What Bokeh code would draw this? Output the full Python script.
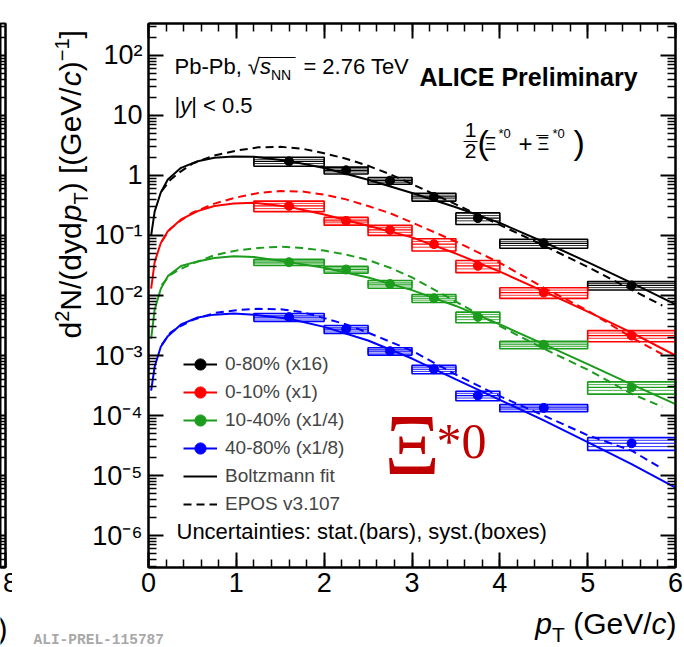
from math import pi
from bokeh.plotting import figure
from bokeh.models import FixedTicker, LinearAxis, LogAxis, Label, Legend, LegendItem
from bokeh.layouts import row, column
from bokeh.embed import file_html
from bokeh.resources import INLINE

# ---------------- measured spectra ----------------
pt_centers = [1.6, 2.25, 2.75, 3.25, 3.75, 4.5, 5.5]
pt_low = [1.2, 2.0, 2.5, 3.0, 3.5, 4.0, 5.0]
pt_high = [2.0, 2.5, 3.0, 3.5, 4.0, 5.0, 6.0]

yield_0_80 = [1.72, 1.22, 0.82, 0.44, 0.195, 0.074, 0.0147]
yield_0_10 = [0.312, 0.175, 0.124, 0.0717, 0.0312, 0.0112, 0.00215]
yield_10_40 = [0.0359, 0.0271, 0.0155, 0.0090, 0.0044, 0.00151, 0.000295]
yield_40_80 = [0.00436, 0.00275, 0.00118, 0.00059, 0.000215, 0.000134, 0.0000345]

# relative systematic (outer box) and uncorrelated systematic (inner box)
syst_0_80 = [0.17, 0.13, 0.13, 0.15, 0.22, 0.17, 0.16]
syst_0_10 = [0.20, 0.15, 0.19, 0.23, 0.23, 0.20, 0.21]
syst_10_40 = [0.12, 0.13, 0.15, 0.15, 0.20, 0.14, 0.23]
syst_40_80 = [0.15, 0.15, 0.14, 0.16, 0.18, 0.14, 0.24]
syst_unc_0_80 = [0.08, 0.06, 0.06, 0.07, 0.10, 0.08, 0.08]
syst_unc_0_10 = [0.10, 0.07, 0.09, 0.11, 0.11, 0.10, 0.10]
syst_unc_10_40 = [0.06, 0.06, 0.07, 0.07, 0.10, 0.07, 0.11]
syst_unc_40_80 = [0.07, 0.07, 0.07, 0.08, 0.09, 0.07, 0.12]
# relative statistical uncertainties
stat_0_80 = [0.03, 0.03, 0.03, 0.04, 0.05, 0.05, 0.08]
stat_0_10 = [0.05, 0.05, 0.05, 0.06, 0.07, 0.08, 0.10]
stat_10_40 = [0.04, 0.04, 0.04, 0.05, 0.06, 0.07, 0.09]
stat_40_80 = [0.05, 0.05, 0.06, 0.07, 0.08, 0.09, 0.12]

# ---------------- Boltzmann fit curves ----------------
fit_pt = [0.03, 0.07, 0.14, 0.22, 0.37, 0.56, 0.75, 0.97, 1.2, 1.6,
          2.0, 2.5, 3.0, 3.5, 4.0, 4.5, 5.0, 5.5, 6.0]
fit_0_80 = [0.10, 0.25, 0.52, 0.86, 1.34, 1.73, 1.97, 2.08, 2.05, 1.75,
            1.33, 0.85, 0.51, 0.295, 0.162, 0.078, 0.036, 0.0162, 0.0071]
fit_0_10 = [0.013, 0.036, 0.075, 0.118, 0.185, 0.255, 0.31, 0.34, 0.35, 0.30,
            0.224, 0.145, 0.093, 0.050, 0.025, 0.0117, 0.0054, 0.0024, 0.0010]
fit_10_40 = [0.0019, 0.0058, 0.013, 0.021, 0.031, 0.037, 0.042, 0.045, 0.044, 0.036,
             0.029, 0.020, 0.0123, 0.0067, 0.0033, 0.00155, 0.00072, 0.00033, 0.000155]
fit_40_80 = [0.00026, 0.00065, 0.0014, 0.0021, 0.0033, 0.0043, 0.0048, 0.0050, 0.0048, 0.0041,
             0.0030, 0.00178, 0.00089, 0.00040, 0.000182, 0.000083, 0.000036, 0.0000155, 0.0000063]

# ---------------- EPOS v3.107 curves ----------------
epos_pt = [0.15, 0.25, 0.35, 0.5, 0.75, 1.0, 1.25, 1.5, 1.75, 2.0,
           2.25, 2.5, 2.75, 3.0, 3.5, 4.0, 4.5, 5.0, 5.5, 5.85]
epos_0_80 = [0.55, 0.85, 1.12, 1.58, 2.15, 2.6, 2.95, 3.0, 2.8, 2.35,
             1.9, 1.45, 1.05, 0.72, 0.33, 0.15, 0.068, 0.030, 0.0125, 0.0068]
epos_0_10 = [0.08, 0.13, 0.17, 0.24, 0.34, 0.43, 0.51, 0.55, 0.54, 0.48,
             0.40, 0.31, 0.235, 0.165, 0.079, 0.035, 0.0135, 0.0056, 0.0020, 0.00105]
epos_10_40 = [0.015, 0.022, 0.027, 0.034, 0.047, 0.056, 0.062, 0.065, 0.062, 0.056,
              0.048, 0.039, 0.029, 0.020, 0.0079, 0.0031, 0.0013, 0.00058, 0.00023, 0.00014]
epos_40_80 = [0.0015, 0.0024, 0.0030, 0.0039, 0.0051, 0.0057, 0.0060, 0.0059, 0.0053, 0.0042,
              0.0033, 0.0024, 0.0017, 0.0012, 0.00048, 0.00021, 0.00010, 0.000047, 0.000026, 0.000013]

series_labels = ["0-80% (x16)", "0-10% (x1)", "10-40% (x1/4)", "40-80% (x1/8)"]
series_colors = ["black", "#ff0000", "#1c9c1c", "#0000ff"]

x_ticks = [0, 1, 2, 3, 4, 5, 6]
y_ticks = [1e-6, 1e-5, 1e-4, 1e-3, 1e-2, 1e-1, 1, 10, 100]
y_tick_labels = ["10⁻⁶", "10⁻⁵", "10⁻⁴", "10⁻³", "10⁻²", "10⁻¹", "1", "10", "10²"]

Y_MIN, Y_MAX = 10 ** -6.533, 10 ** 2.533

# ---------------- page geometry ----------------
PAGE_W, PAGE_H = 684, 647
EDGE_W = 12          # strip showing the neighbouring panel's edge
TITLE_W = 76         # strip holding the vertical axis title
MAIN_W = PAGE_W - EDGE_W - TITLE_W
TOP_H = 606          # height of the row with the plot
FRAME_TOP_PX = 23    # page y of the frame's top edge
FRAME_BOT_PX = 567   # page y of the frame's bottom edge
FRAME_LEFT_PX = 146  # page x of the frame's left edge
ONE_ROW_PX = 175     # page y of the y = 1 level

# ---------------- text helpers ----------------
FONT = "Liberation Sans"
ADV = {' ': 278, '%': 889, '(': 333, ')': 333, '*': 389, '+': 584, ',': 278, '-': 333,
       '.': 278, '/': 278, ':': 278, '<': 584, '=': 584, '|': 260, '[': 278, ']': 278,
       'G': 778, 'N': 722, 'P': 667, 'T': 611, 'V': 667, 'a': 556, 'b': 556, 'c': 500,
       'd': 556, 'e': 556, 'p': 556, 's': 500, 'y': 500, '√': 549, 'Ξ': 667, '−': 584,
       '¯': 552}
ADV_BOLD = {'A': 722, 'L': 611, 'I': 278, 'C': 722, 'E': 667, ' ': 278, 'P': 667, 'r': 389,
            'e': 556, 'l': 278, 'i': 278, 'm': 889, 'n': 611, 'a': 556, 'y': 556}
MID = 0.35  # baseline sits this many em below a middle-anchored label's anchor


def text_width(s, size, bold=False):
    tbl = ADV_BOLD if bold else ADV
    return sum(tbl.get(ch, 556) for ch in s) * size / 1000.0


def put(fig, txt, px, py, size, style="normal", color="black", font=FONT, angle=0.0,
        align="left", mid=MID):
    """Place text with its baseline at page pixel (px, py)."""
    if angle:
        ax, ay = px - mid * size, py
    else:
        ax, ay = px, py - mid * size
    if fig is p:
        kw = dict(x=0, y=1, x_offset=ax - FRAME_LEFT_PX, y_offset=ONE_ROW_PX - ay)
    else:
        kw = dict(x=ax, y=ay)
    fig.add_layout(Label(text=txt, text_font=font, text_font_size=f"{size}px",
                         text_font_style=style, text_color=color, text_align=align,
                         text_baseline="middle", angle=angle, **kw))


def put_runs(fig, runs, px, py, vertical=False, color="black", font=FONT):
    """Lay out styled runs one after another; leading blanks become explicit advances."""
    pos = 0.0
    for txt, size, style, rise in runs:
        bold = style == "bold"
        stripped = txt.lstrip(" ")
        pos += text_width(txt[:len(txt) - len(stripped)], size, bold)
        if stripped:
            if vertical:
                put(fig, stripped, px - rise, py - pos, size, style, color, font, angle=pi / 2)
            else:
                put(fig, stripped, px + pos, py - rise, size, style, color, font)
        pos += text_width(stripped, size, bold)
    return pos


def blank_figure(width, height, x_range, y_range, top=0, bottom=0):
    f = figure(width=width, height=height, x_range=x_range, y_range=y_range,
               output_backend="svg", toolbar_location=None,
               x_axis_location=None, y_axis_location=None,
               min_border_left=0, min_border_right=0,
               min_border_top=top, min_border_bottom=bottom)
    f.xgrid.visible = False
    f.ygrid.visible = False
    f.outline_line_color = None
    return f


# ---------------- main figure ----------------
p = figure(width=MAIN_W, height=TOP_H, x_range=(0, 6), y_range=(Y_MIN, Y_MAX), y_axis_type="log",
           output_backend="svg", toolbar_location=None,
           min_border_left=FRAME_LEFT_PX - EDGE_W - TITLE_W, min_border_right=9,
           min_border_top=FRAME_TOP_PX, min_border_bottom=TOP_H - FRAME_BOT_PX)
p.xgrid.visible = False
p.ygrid.visible = False
p.outline_line_color = "black"
p.outline_line_width = 2

x_minor = [i * 0.2 for i in range(31)]
y_minor = [k * 10.0 ** e for e in range(-7, 3) for k in range(2, 10)]
x_ticker = FixedTicker(ticks=x_ticks, minor_ticks=x_minor)
y_ticker = FixedTicker(ticks=y_ticks, minor_ticks=y_minor)


def style_axis(ax, show_labels):
    ax.axis_line_width = 2
    ax.major_tick_in = 15
    ax.major_tick_out = 0
    ax.minor_tick_in = 8
    ax.minor_tick_out = 0
    ax.major_tick_line_width = 2
    ax.minor_tick_line_width = 1.5
    ax.major_label_text_font = FONT
    ax.major_label_text_color = "black"
    if show_labels:
        ax.major_label_text_font_size = "27px"
    else:
        ax.major_label_text_font_size = "1px"
        ax.major_label_text_alpha = 0
        ax.major_label_standoff = 0


xa = p.xaxis[0]
xa.ticker = x_ticker
style_axis(xa, True)
xa.major_label_standoff = 5

ya = p.yaxis[0]
ya.ticker = y_ticker
style_axis(ya, True)
ya.major_label_standoff = 6
ya.major_label_overrides = dict(zip(y_ticks, y_tick_labels))

top_ax = LinearAxis(ticker=x_ticker)
style_axis(top_ax, False)
p.add_layout(top_ax, "above")
right_ax = LogAxis(ticker=y_ticker)
style_axis(right_ax, False)
p.add_layout(right_ax, "right")

all_yields = [yield_0_80, yield_0_10, yield_10_40, yield_40_80]
all_syst = [syst_0_80, syst_0_10, syst_10_40, syst_40_80]
all_unc = [syst_unc_0_80, syst_unc_0_10, syst_unc_10_40, syst_unc_40_80]
all_stat = [stat_0_80, stat_0_10, stat_10_40, stat_40_80]
all_fit = [fit_0_80, fit_0_10, fit_10_40, fit_40_80]
all_epos = [epos_0_80, epos_0_10, epos_10_40, epos_40_80]

# systematic boxes, bin-width bars and statistical bars
for vals, syst, unc, stat, color in zip(all_yields, all_syst, all_unc, all_stat, series_colors):
    p.quad(left=pt_low, right=pt_high,
           top=[v * (1 + s) for v, s in zip(vals, syst)],
           bottom=[v * (1 - s) for v, s in zip(vals, syst)],
           fill_alpha=0, line_color=color, line_width=1.6)
    p.quad(left=pt_low, right=pt_high,
           top=[v * (1 + s) for v, s in zip(vals, unc)],
           bottom=[v * (1 - s) for v, s in zip(vals, unc)],
           fill_alpha=0, line_color=color, line_width=1.0, line_alpha=0.8)
    p.segment(x0=pt_low, x1=pt_high, y0=vals, y1=vals, line_color=color, line_width=1.2)
    p.segment(x0=pt_centers, x1=pt_centers,
              y0=[v * (1 - s) for v, s in zip(vals, stat)],
              y1=[v * (1 + s) for v, s in zip(vals, stat)],
              line_color=color, line_width=1.5)

fit_renderers = []
epos_renderers = []
for fit, epos, color in zip(all_fit, all_epos, series_colors):
    fit_renderers.append(p.line(fit_pt, fit, line_color=color, line_width=2))
    epos_renderers.append(p.line(epos_pt, epos, line_color=color, line_width=2, line_dash="8 5"))

point_renderers = []
for vals, color in zip(all_yields, series_colors):
    point_renderers.append(p.scatter(pt_centers, vals, marker="circle", size=9,
                                     fill_color=color, line_color=color))

items = [LegendItem(label=lab, renderers=[fr, pr])
         for lab, fr, pr in zip(series_labels, fit_renderers, point_renderers)]
items.append(LegendItem(label="Boltzmann fit", renderers=[fit_renderers[0]]))
items.append(LegendItem(label="EPOS v3.107", renderers=[epos_renderers[0]]))
legend = Legend(items=items, location=(35, 49), glyph_width=34, glyph_height=28,
                label_height=28, spacing=0, padding=0, margin=0, label_standoff=8,
                label_text_font=FONT, label_text_font_size="19px",
                border_line_alpha=0, background_fill_alpha=0)
p.add_layout(legend)

# ---------------- texts inside the frame ----------------
pos = put_runs(p, [("Pb-Pb, ", 22, "normal", 0), ("√", 22, "normal", 0)], 172, 74)
put(p, "¯¯¯", 172 + pos - 1, 74, 22)
put_runs(p, [("s", 22, "italic", 0), ("NN", 14, "normal", -5),
             ("  = 2.76 TeV", 22, "normal", 0)], 172 + pos, 74)
put_runs(p, [("|", 22, "normal", 0), ("y", 22, "italic", 0), ("| < 0.5", 22, "normal", 0)], 172, 113)
put(p, "ALICE Preliminary", 417, 85, 25, style="bold")

# 1/2 (Xi*0 + anti-Xi*0)
put(p, "1", 468, 137, 21, align="center")
put(p, "—", 468, 144, 14, align="center")
put(p, "2", 468, 158, 21, align="center")
put(p, "(", 475, 153, 34)
put(p, "Ξ", 482, 150, 18)
put(p, "*0", 496, 138, 13)
put(p, "+", 516, 151, 24)
put(p, "¯", 534, 149, 21)
put(p, "Ξ", 535, 150, 18)
put(p, "*0", 550, 138, 13)
put(p, ")", 571, 153, 34)

put(p, "Uncertainties: stat.(bars), syst.(boxes)", 174, 539, 22)

# big particle label
put(p, "Ξ", 382, 475, 86, color="#c00000", font="Liberation Serif")
put(p, "*0", 434, 458, 50, color="#c00000", font="Liberation Serif")

# ---------------- strip with the vertical axis title ----------------
# its frame shares the main frame's top and bottom, and its ranges equal page pixels
ta = blank_figure(TITLE_W, TOP_H, (EDGE_W, EDGE_W + TITLE_W), (FRAME_BOT_PX, FRAME_TOP_PX),
                  top=FRAME_TOP_PX, bottom=TOP_H - FRAME_BOT_PX)
thin = (" ", 4, "normal", 0)  # small extra advance around slanted letters
put_runs(ta, [("d", 30, "normal", 0), ("2", 20, "normal", 12), ("N/(dyd", 30, "normal", 0),
              thin, ("p", 30, "italic", 0), ("T", 20, "normal", -7), (") [(GeV/", 30, "normal", 0),
              thin, ("c", 30, "italic", 0), (")", 30, "normal", 0), ("−1", 20, "normal", 12),
              ("]", 30, "normal", 0)], 80, 338, vertical=True)

# ---------------- bottom strip: axis title and preliminary tag ----------------
tb = blank_figure(PAGE_W, PAGE_H - TOP_H, (0, PAGE_W), (PAGE_H, TOP_H))
xt_runs = [("p", 30, "italic", 0), ("T", 21, "normal", -8), (" (GeV/", 30, "normal", 0),
           ("c", 30, "italic", 0), (")", 30, "normal", 0)]
xt_w = sum(text_width(t, s) for t, s, _, _ in xt_runs)
put_runs(tb, xt_runs, 676 - xt_w, 633)
put(tb, "ALI-PREL-115787", 33, 645, 14.5, style="bold", color="#a8a8a8", font="Liberation Mono")
put(tb, ")", -3, 638, 30)

# ---------------- neighbouring panel edge ----------------
lp = figure(width=EDGE_W, height=TOP_H, x_range=(7.9, 8.0), y_range=(Y_MIN, Y_MAX),
            y_axis_type="log", output_backend="svg", toolbar_location=None,
            y_axis_location="right", min_border_left=0, min_border_right=7,
            min_border_top=FRAME_TOP_PX, min_border_bottom=TOP_H - FRAME_BOT_PX)
lp.xgrid.visible = False
lp.ygrid.visible = False
lp.outline_line_color = "black"
lp.outline_line_width = 2
lxa = lp.xaxis[0]
lxa.ticker = FixedTicker(ticks=[8], minor_ticks=[])
style_axis(lxa, True)
lxa.major_label_standoff = 5
lya = lp.yaxis[0]
lya.ticker = y_ticker
style_axis(lya, False)

layout = column(row(lp, ta, p), tb)
open("out.html", "w").write(file_html(layout, INLINE))
